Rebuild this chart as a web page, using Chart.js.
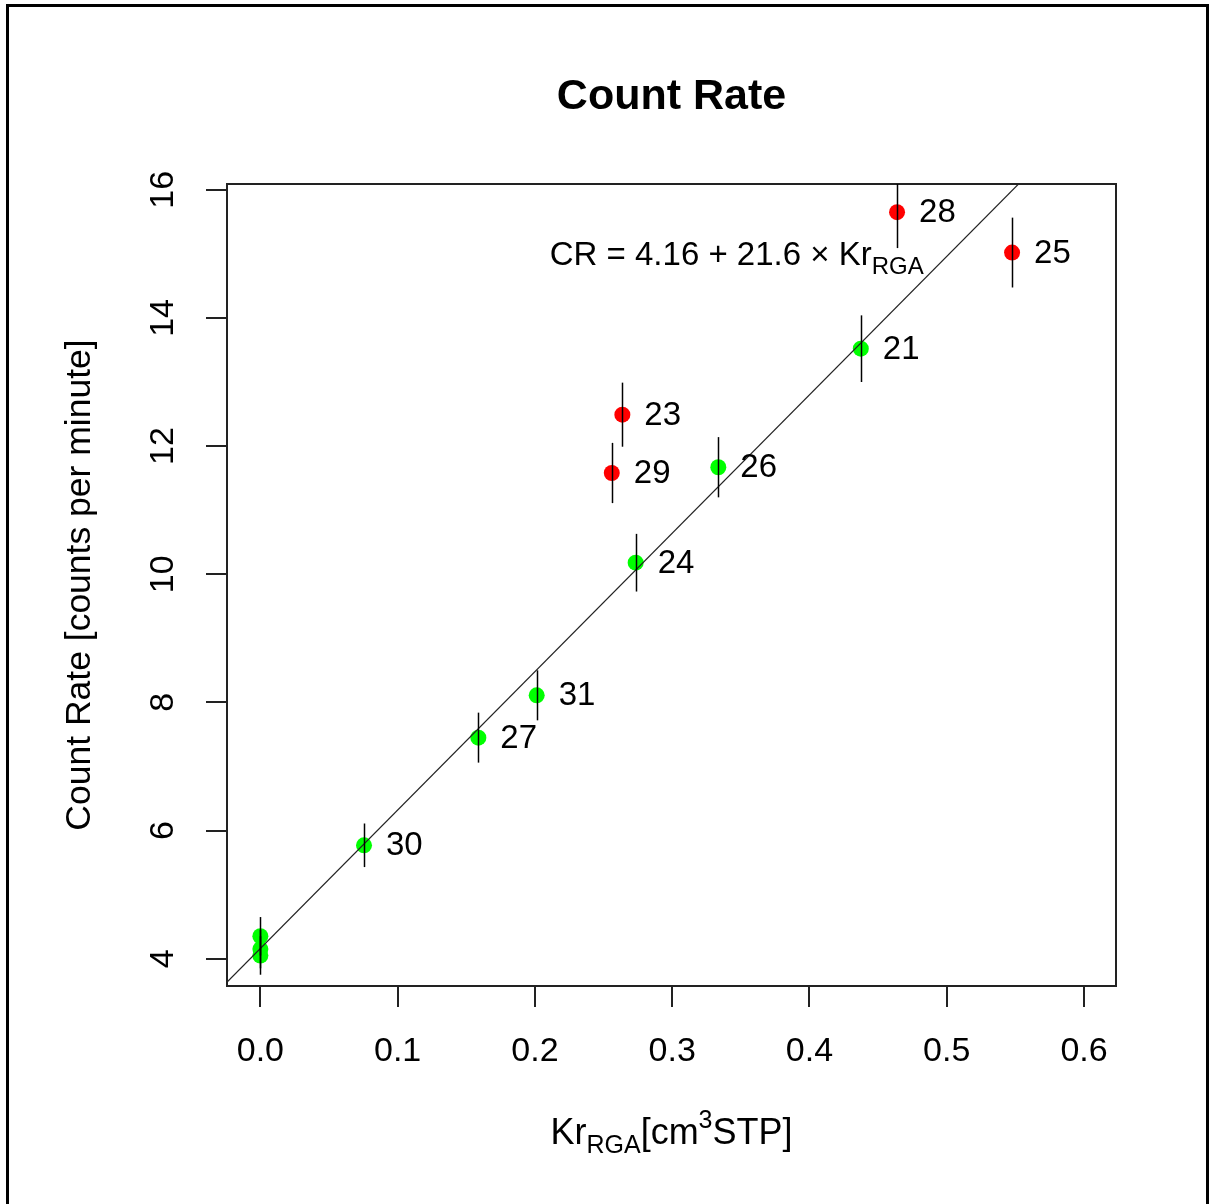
<!DOCTYPE html>
<html>
<head>
<meta charset="utf-8">
<script src="https://cdn.jsdelivr.net/npm/chart.js@4"></script>
<style>
  html, body { margin: 0; padding: 0; background: #fff; }
  #wrap { width: 1209px; height: 1204px; }
</style>
</head>
<body>
<div id="wrap"><canvas id="grafico" width="1209" height="1204"></canvas></div>
<script>
// Datos (Kr RGA vs tasa de conteo)
const runIds    = [null, null, null, 30, 27, 31, 24, 26, 21, 29, 23, 28, 25];
const krRga     = [0, 0, 0, 0.0755, 0.1588, 0.2013, 0.2734, 0.3336, 0.4374, 0.256, 0.2637, 0.4638, 0.5476];
const countRate = [4.35, 4.15, 4.05, 5.77, 7.45, 8.11, 10.18, 11.67, 13.52, 11.58, 12.49, 15.65, 15.02];
const countErr  = [0.3, 0.3, 0.3, 0.34, 0.39, 0.39, 0.45, 0.47, 0.52, 0.47, 0.5, 0.56, 0.545];
const outlier   = [false, false, false, false, false, false, false, false, false, true, true, true, true];

// Recta de ajuste: CR = 4.16 + 21.6 * Kr
const fitIntercept = 4.16;
const fitSlope = 21.6;
const fitRangeX = [-0.05, 0.65];

// Marcas de los ejes
const xTicks = [0, 0.1, 0.2, 0.3, 0.4, 0.5, 0.6];
const yTicks = [4, 6, 8, 10, 12, 14, 16];

// Posicion de la ecuacion (en coordenadas de datos)
const annotX = 0.347;
const annotY = 15.0;

const FONT = "'Liberation Sans', Arial, sans-serif";

// Separamos puntos verdes y rojos
const verdes = [];
const rojos = [];
krRga.forEach((x, i) => {
    const p = { x: x, y: countRate[i] };
    if (outlier[i]) rojos.push(p); else verdes.push(p);
});

const lineaAjuste = fitRangeX.map(x => ({ x: x, y: fitIntercept + fitSlope * x }));

// Plugin para el marco, textos, barras de error y etiquetas
const dibujoExtra = {
    id: 'dibujoExtra',
    afterDraw(chart) {
        const ctx = chart.ctx;
        const area = chart.chartArea;
        const sx = chart.scales.x;
        const sy = chart.scales.y;
        ctx.save();

        // marco exterior
        ctx.strokeStyle = '#000';
        ctx.lineWidth = 3;
        ctx.beginPath();
        ctx.moveTo(7.5, 1210);
        ctx.lineTo(7.5, 5.5);
        ctx.lineTo(1207.5, 5.5);
        ctx.lineTo(1207.5, 1210);
        ctx.stroke();

        // caja del grafico
        ctx.strokeStyle = '#222';
        ctx.lineWidth = 2;
        ctx.strokeRect(area.left, area.top, area.right - area.left, area.bottom - area.top);

        // barras de error (recortadas al area)
        ctx.save();
        ctx.beginPath();
        ctx.rect(area.left, area.top, area.right - area.left, area.bottom - area.top);
        ctx.clip();
        ctx.strokeStyle = '#000';
        ctx.lineWidth = 1.5;
        krRga.forEach((x, i) => {
            const px = Math.round(sx.getPixelForValue(x)) + 0.5;
            ctx.beginPath();
            ctx.moveTo(px, sy.getPixelForValue(countRate[i] - countErr[i]));
            ctx.lineTo(px, sy.getPixelForValue(countRate[i] + countErr[i]));
            ctx.stroke();
        });
        ctx.restore();

        // etiquetas de cada punto
        ctx.fillStyle = '#000';
        ctx.font = '33px ' + FONT;
        ctx.textAlign = 'left';
        ctx.textBaseline = 'middle';
        krRga.forEach((x, i) => {
            if (runIds[i] === null) return;
            ctx.fillText(String(runIds[i]), sx.getPixelForValue(x) + 22, sy.getPixelForValue(countRate[i]) + 1);
        });

        // ecuacion
        const main = 'CR = 4.16 + 21.6 \u00d7 Kr';
        ctx.font = '33px ' + FONT;
        const wMain = ctx.measureText(main).width;
        ctx.font = '24px ' + FONT;
        const wSub = ctx.measureText('RGA').width;
        const cx = sx.getPixelForValue(annotX);
        const cy = sy.getPixelForValue(annotY);
        let x0 = cx - (wMain + wSub) / 2;
        ctx.textBaseline = 'alphabetic';
        ctx.font = '33px ' + FONT;
        ctx.fillText(main, x0, cy + 11);
        ctx.font = '24px ' + FONT;
        ctx.fillText('RGA', x0 + wMain, cy + 20);

        // etiquetas de los ejes
        ctx.font = '34px ' + FONT;
        ctx.textAlign = 'center';
        ctx.textBaseline = 'middle';
        xTicks.forEach(v => {
            ctx.fillText(v.toFixed(1), sx.getPixelForValue(v), 1052);
        });
        yTicks.forEach(v => {
            ctx.save();
            ctx.translate(164, sy.getPixelForValue(v));
            ctx.rotate(-Math.PI / 2);
            ctx.fillText(String(v), 0, 0);
            ctx.restore();
        });

        // titulo
        ctx.font = 'bold 43px ' + FONT;
        ctx.fillText('Count Rate', (area.left + area.right) / 2, 97);

        // titulo eje y
        ctx.save();
        ctx.translate(80, (area.top + area.bottom) / 2);
        ctx.rotate(-Math.PI / 2);
        ctx.font = '35.5px ' + FONT;
        ctx.fillText('Count Rate [counts per minute]', 0, 0);
        ctx.restore();

        // titulo eje x: Kr_RGA[cm^3 STP]
        const partes = [
            { t: 'Kr', f: 36, dy: 0 },
            { t: 'RGA', f: 25, dy: 9 },
            { t: '[cm', f: 36, dy: 0 },
            { t: '3', f: 25, dy: -16 },
            { t: 'STP]', f: 36, dy: 0 }
        ];
        let total = 0;
        partes.forEach(p => { ctx.font = p.f + 'px ' + FONT; p.w = ctx.measureText(p.t).width; total += p.w; });
        let xx = (area.left + area.right) / 2 - total / 2;
        ctx.textAlign = 'left';
        ctx.textBaseline = 'alphabetic';
        partes.forEach(p => {
            ctx.font = p.f + 'px ' + FONT;
            ctx.fillText(p.t, xx, 1144 + p.dy);
            xx += p.w;
        });

        ctx.restore();
    }
};

window.onload = function() {
    const ctx = document.getElementById('grafico').getContext('2d');
    new Chart(ctx, {
        type: 'scatter',
        data: {
            datasets: [
                {
                    type: 'line',
                    label: 'ajuste',
                    data: lineaAjuste,
                    borderColor: '#222',
                    borderWidth: 1.2,
                    pointRadius: 0,
                    fill: false,
                    order: 0
                },
                {
                    label: 'verdes',
                    data: verdes,
                    backgroundColor: '#00ff00',
                    borderWidth: 0,
                    pointRadius: 8,
                    order: 1
                },
                {
                    label: 'rojos',
                    data: rojos,
                    backgroundColor: '#ff0000',
                    borderWidth: 0,
                    pointRadius: 8,
                    order: 1
                }
            ]
        },
        options: {
            responsive: false,
            animation: false,
            layout: { padding: { left: 0, top: 184, right: 93, bottom: 0 } },
            plugins: {
                legend: { display: false },
                tooltip: { enabled: false },
                title: { display: false }
            },
            scales: {
                x: {
                    type: 'linear',
                    min: -0.0243,
                    max: 0.6233,
                    afterBuildTicks: s => { s.ticks = xTicks.map(v => ({ value: v })); },
                    afterFit: s => { s.height = 218; },
                    ticks: { display: false },
                    border: { display: false },
                    grid: { drawOnChartArea: false, drawTicks: true, tickLength: 21, color: '#222', lineWidth: 2 }
                },
                y: {
                    type: 'linear',
                    min: 3.574,
                    max: 16.09,
                    afterBuildTicks: s => { s.ticks = yTicks.map(v => ({ value: v })); },
                    afterFit: s => { s.width = 227; },
                    ticks: { display: false },
                    border: { display: false },
                    grid: { drawOnChartArea: false, drawTicks: true, tickLength: 21, color: '#222', lineWidth: 2 }
                }
            }
        },
        plugins: [dibujoExtra]
    });
};
</script>
</body>
</html>
